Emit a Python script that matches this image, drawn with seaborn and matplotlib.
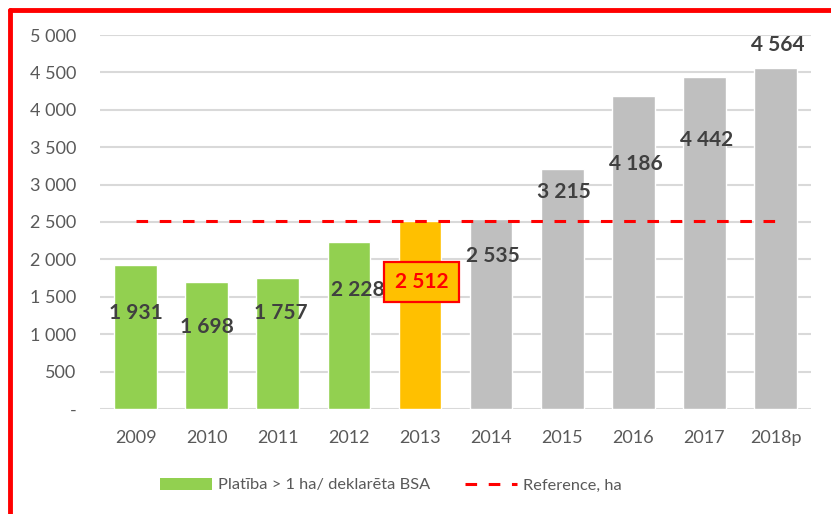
import matplotlib
matplotlib.use("Agg")
import matplotlib.pyplot as plt
from matplotlib.lines import Line2D
from matplotlib.patches import Patch
from matplotlib.ticker import FuncFormatter
import seaborn as sns
import pandas as pd

# Data
years = ["2009", "2010", "2011", "2012", "2013", "2014", "2015", "2016", "2017", "2018p"]
area = [1931, 1698, 1757, 2228, 2512, 2535, 3215, 4186, 4442, 4564]
reference = [2512, 2512, 2512, 2512, 2512, 2512, 2512, 2512, 2512, 2512]
# where each value label sits (in y units)
label_y = [1283, 1096, 1283, 1591, 1698, 2045, 2901, 3275, 3596, 4866]
label_dx = [0.0, 0.0, 0.05, 0.12, 0.02, 0.02, 0.03, 0.03, 0.03, 0.03]
bar_colors = ["#92D050", "#92D050", "#92D050", "#92D050", "#FFC000",
              "#BFBFBF", "#BFBFBF", "#BFBFBF", "#BFBFBF", "#BFBFBF"]
y_ticks = [0, 500, 1000, 1500, 2000, 2500, 3000, 3500, 4000, 4500, 5000]

sns.set_theme(style="white")
plt.rcParams["font.family"] = ["Lato", "DejaVu Sans"]

df = pd.DataFrame({"year": years, "area": area, "ref": reference})

fig = plt.figure(figsize=(8.31, 5.14), dpi=100)
ax = fig.add_axes([0.1203, 0.2043, 0.8557, 0.7276])

sns.barplot(data=df, x="year", y="area", hue="year", palette=bar_colors,
            width=0.6, legend=False, saturation=1, ax=ax, zorder=2)
sns.lineplot(data=df, x="year", y="ref", color="#FF0000", lw=2.2, ax=ax,
             zorder=3, dashes=False)
ax.lines[-1].set_dashes([3.8, 3.8])

ax.set_xlim(-0.5, len(years) - 0.5)
ax.set_ylim(0, 5000)
ax.set_yticks(y_ticks)
ax.yaxis.set_major_formatter(FuncFormatter(
    lambda v, p: "-" if v == 0 else f"{int(v):,}".replace(",", " ")))
ax.grid(axis="y", color="#D9D9D9", lw=1.5, zorder=0)
ax.grid(axis="x", visible=False)
for s in ax.spines.values():
    s.set_visible(False)
ax.tick_params(axis="y", length=0, pad=17, labelsize=13, labelcolor="#595959")
ax.tick_params(axis="x", length=0, pad=15, labelsize=13, labelcolor="#595959")
ax.set_xlabel("")
ax.set_ylabel("")

# Value labels
for i, (v, ly) in enumerate(zip(area, label_y)):
    txt = f"{v:,}".replace(",", " ")
    if years[i] == "2013":
        ax.text(i + label_dx[i], ly, txt, ha="center", va="center",
                fontsize=15, fontweight="bold", color="#FF0000", zorder=5,
                bbox=dict(boxstyle="square,pad=0.5", fc="#FFC000",
                          ec="#FF0000", lw=1.6))
    else:
        ax.text(i + label_dx[i], ly, txt, ha="center", va="center",
                fontsize=15, fontweight="bold", color="#404040", zorder=5)

# Legend
handles = [Patch(facecolor="#92D050", edgecolor="none"),
           Line2D([0], [0], color="#FF0000", lw=2.2, dashes=[3.8, 3.8])]
fig.legend(handles, ["Platība > 1 ha/ deklarēta BSA", "Reference, ha"],
           loc="center", bbox_to_anchor=(0.470, 1 - 485 / 514), ncol=2,
           frameon=False, fontsize=11.8, labelcolor="#595959",
           handlelength=3.2, handleheight=0.8, handletextpad=0.35,
           columnspacing=2.1)

# Red frame
fig.add_artist(Line2D([0.012, 1.0], [0.9815, 0.9815], color="#FF0000",
                      lw=3.5, transform=fig.transFigure))
fig.add_artist(Line2D([0.012, 0.012], [0.0, 0.9815], color="#FF0000",
                      lw=3.5, transform=fig.transFigure))

fig.savefig("out.png", dpi=100)
